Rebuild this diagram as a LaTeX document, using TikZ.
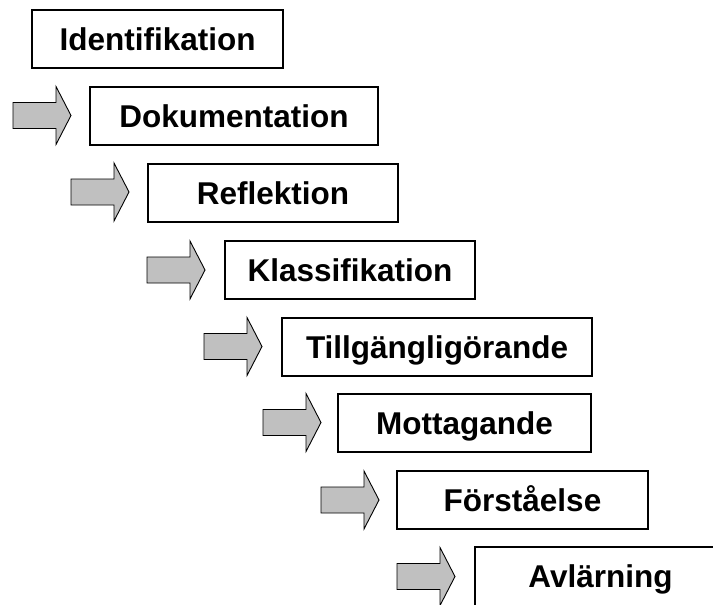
\documentclass[tikz,border=0pt]{standalone}
\usepackage{fontspec}
\setmainfont{Liberation Sans}
\begin{document}
\begin{tikzpicture}[x=1pt, y=-1pt,
  stage/.style={draw, line width=1.4pt, inner sep=0pt, fill=white,
    minimum height=58pt, text height=22.6pt, text depth=0pt,
    font=\fontsize{31.5}{36}\selectfont\bfseries},
  blockarrow/.pic={
    \draw[line width=0.9pt, fill=arrowgray, line join=miter]
      (0,-13) -- (43,-13) -- (43,-29) -- (58,0) -- (43,29) -- (43,13) -- (0,13) -- cycle;
  }]
\definecolor{arrowgray}{RGB}{192,192,192}
\clip (0,0) rectangle (713,605);
\fill[white] (0,0) rectangle (713,605);

% process stages
\node[stage, minimum width=251pt] (s1) at (157.5,39)  {Identifikation};
\node[stage, minimum width=288pt] (s2) at (234,116)   {Dokumentation};
\node[stage, minimum width=250pt] (s3) at (273,193)   {Reflektion};
\node[stage, minimum width=250pt] (s4) at (350,270)   {Klassifikation};
\node[stage, minimum width=310pt] (s5) at (437,347)   {Tillgängligörande};
\node[stage, minimum width=253pt] (s6) at (464.5,423) {Mottagande};
\node[stage, minimum width=251pt] (s7) at (522.5,500) {Förståelse};
\node[stage, minimum width=251pt, minimum height=59pt] (s8) at (600.5,576.5) {Avlärning};

% block arrows leading into each stage
\pic (a2) at (13,115.5)  {blockarrow};
\pic (a3) at (71,192)    {blockarrow};
\pic (a4) at (147,270)   {blockarrow};
\pic (a5) at (204,346.5) {blockarrow};
\pic (a6) at (263,422.5) {blockarrow};
\pic (a7) at (321,500)   {blockarrow};
\pic (a8) at (397,576.5) {blockarrow};
\end{tikzpicture}
\end{document}
